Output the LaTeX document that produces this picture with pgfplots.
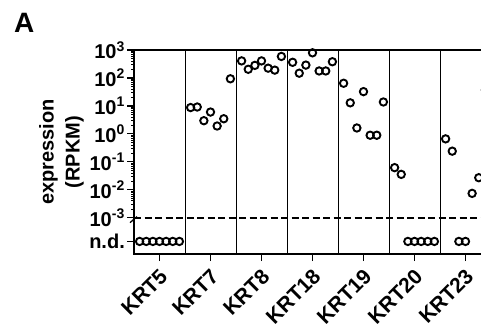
\documentclass[border=0pt]{standalone}
\usepackage{pgfplots}
\pgfplotsset{compat=1.18}
\usepackage{fontspec}
\setmainfont{Liberation Sans}
\begin{document}
\begin{tikzpicture}[x=1pt,y=1pt]
\path[use as bounding box] (0,0) rectangle (481,327);
\clip (0,0) rectangle (481,327);
\node[anchor=north west,inner sep=0pt,font=\fontsize{28}{30}\selectfont\bfseries] at (14,314) {A};
\begin{axis}[
  at={(134pt,73pt)}, anchor=south west,
  scale only axis, width=362.1pt, height=204pt,
  xmin=-0.5, xmax=6.6, ymin=-4.3, ymax=3,
  axis line style={line width=1.5pt},
  tick align=outside, xtick pos=bottom, ytick pos=left,
  major tick length=7pt, minor tick length=3pt,
  every tick/.style={black, line width=1.3pt},
  minor tick style={line width=0.8pt},
  xtick={0,1,2,3,4,5,6},
  xticklabels={KRT5,KRT7,KRT8,KRT18,KRT19,KRT20,KRT23},
  xticklabel style={xshift=5pt, yshift=-11pt, rotate=45, anchor=east, font=\fontsize{21}{23}\selectfont\bfseries, inner sep=1pt},
  ytick={-3.85,-3,-2,-1,0,1,2,3},
  yticklabels={n.d.,10\textsuperscript{-3},10\textsuperscript{-2},10\textsuperscript{-1},10\textsuperscript{0},10\textsuperscript{1},10\textsuperscript{2},10\textsuperscript{3}},
  yticklabel style={font=\fontsize{20}{22}\selectfont\bfseries, inner sep=2pt},
  minor ytick={-2.69897,-2.52288,-2.39794,-2.30103,-2.22185,-2.15490,-2.09691,-2.04576,
    -1.69897,-1.52288,-1.39794,-1.30103,-1.22185,-1.15490,-1.09691,-1.04576,
    -0.69897,-0.52288,-0.39794,-0.30103,-0.22185,-0.15490,-0.09691,-0.04576,
    0.30103,0.47712,0.60206,0.69897,0.77815,0.84510,0.90309,0.95424,
    1.30103,1.47712,1.60206,1.69897,1.77815,1.84510,1.90309,1.95424,
    2.30103,2.47712,2.60206,2.69897,2.77815,2.84510,2.90309,2.95424},
  extra x ticks={0.5,1.5,2.5,3.5,4.5,5.5},
  extra x tick labels={},
  extra x tick style={major tick length=0pt, grid=major, major grid style={black, line width=1pt}},
  ylabel={expression\\(RPKM)},
  ylabel style={align=center, font=\fontsize{20}{26}\selectfont\bfseries},
  clip=false,
]
\addplot[black, dashed, line width=2pt, dash pattern=on 7pt off 3.5pt] coordinates {(-0.5,-3) (6.6,-3)};
\addplot[only marks, mark=o, mark size=3.7pt, line width=1.9pt, black] coordinates {
 (-0.39,-3.85) (-0.26,-3.85) (-0.13,-3.85) (0,-3.85) (0.13,-3.85) (0.26,-3.85) (0.39,-3.85)
 (0.61,0.94) (0.74,0.96) (0.87,0.47) (1.0,0.78) (1.13,0.28) (1.26,0.54) (1.39,1.97)
 (1.61,2.61) (1.74,2.31) (1.87,2.45) (2.0,2.61) (2.13,2.35) (2.26,2.28) (2.39,2.77)
 (2.61,2.56) (2.74,2.17) (2.87,2.46) (3.0,2.90) (3.13,2.25) (3.26,2.25) (3.39,2.58)
 (3.61,1.81) (3.74,1.11) (3.87,0.21) (4.0,1.51) (4.13,-0.05) (4.26,-0.05) (4.39,1.14)
 (4.61,-1.21) (4.74,-1.45) (4.87,-3.85) (5.0,-3.85) (5.13,-3.85) (5.26,-3.85) (5.39,-3.85)
 (5.61,-0.18) (5.74,-0.62) (5.87,-3.85) (6.0,-3.85) (6.13,-2.13) (6.26,-1.57) (6.39,1.57)
};
\draw[line width=1.3pt] ([xshift=-4pt,yshift=-5pt]axis cs:-0.5,-3) -- ([xshift=3pt,yshift=1pt]axis cs:-0.5,-3);
\end{axis}
\end{tikzpicture}
\end{document}
